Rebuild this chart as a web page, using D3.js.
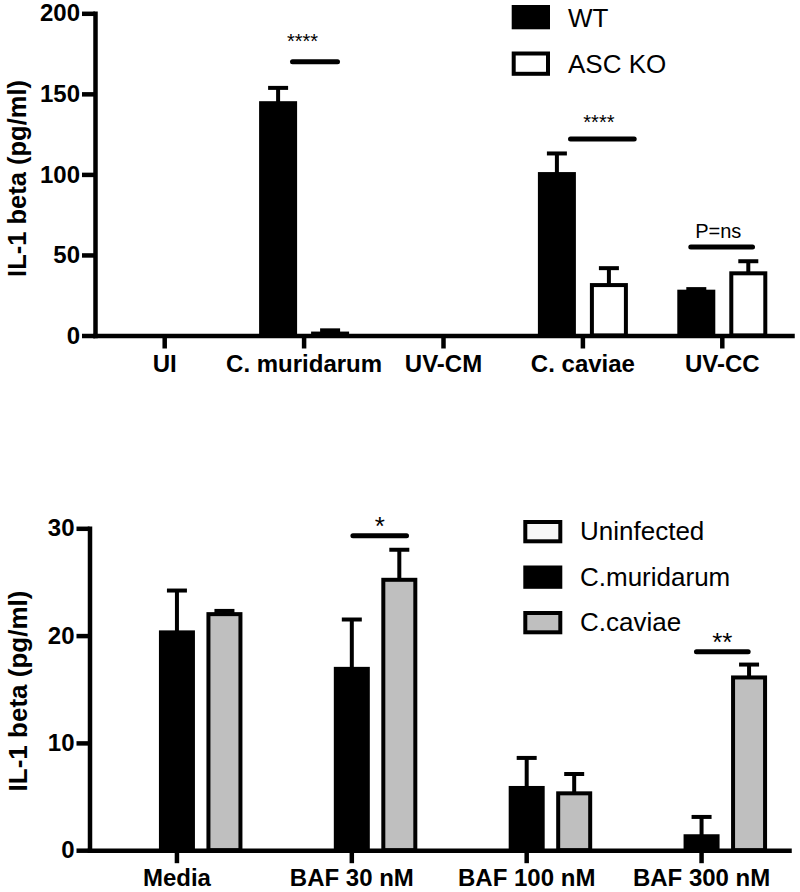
<!DOCTYPE html>
<html>
<head>
<meta charset="utf-8">
<script src="https://cdn.jsdelivr.net/npm/d3@7"></script>
<style>
  body { margin: 0; background: #fff; }
  svg { display: block; font-family: "Liberation Sans", Arial, Helvetica, sans-serif; }
</style>
</head>
<body>
<svg id="chart" width="800" height="892"></svg>
<script>
// ---------- DATA: top panel ----------
const topCategories = ["UI", "C. muridarum", "UV-CM", "C. caviae", "UV-CC"];
const topSeries = ["WT", "ASC KO"];
const topWT = [0, 144.2, 0, 100.2, 27.2];
const topWTerr = [0, 9.5, 0, 12.8, 1.6];
const topKO = [0, 1.2, 0, 31.3, 38.6];
const topKOerr = [0, 2.0, 0, 10.5, 7.5];
const topTicks = [0, 50, 100, 150, 200];
const topSig = [
  { cat: "C. muridarum", label: "****", level: 170 },
  { cat: "C. caviae", label: "****", level: 122 },
  { cat: "UV-CC", label: "P=ns", level: 55 }
];

// ---------- DATA: bottom panel ----------
const botCategories = ["Media", "BAF 30 nM", "BAF 100 nM", "BAF 300 nM"];
const botSeries = ["Uninfected", "C.muridarum", "C.caviae"];
const botUninfected = [0, 0, 0, 0];
const botUninfectedErr = [0, 0, 0, 0];
const botMur = [20.3, 16.9, 5.8, 1.3];
const botMurErr = [3.9, 4.6, 2.8, 1.8];
const botCav = [22.0, 25.2, 5.3, 16.1];
const botCavErr = [0.3, 2.8, 1.8, 1.2];
const botTicks = [0, 10, 20, 30];
const botSig = [
  { cat: "BAF 30 nM", label: "*", level: 29.3 },
  { cat: "BAF 300 nM", label: "**", level: 18.5 }
];

// ---------- LAYOUT / STYLE ----------
const FONT = '"Liberation Sans", Arial, Helvetica, sans-serif';
const svg = d3.select("#chart");

const topFills = { "WT": "#000", "ASC KO": "#fff" };
const botFills = { "Uninfected": "#f7f7f7", "C.muridarum": "#000", "C.caviae": "#bfbfbf" };

const topSigLayout = [
  { x1: -11.6, x2: 33.4, tx: -1.6, ty: -14, size: 20 },
  { x1: -12.4, x2: 51.3, tx: 16, ty: -9.5, size: 20 },
  { x1: -31.5, x2: 30.2, tx: -4, ty: -8.6, size: 20 }
];
const botSigLayout = [
  { x1: 1.1, x2: 54.7, tx: 28, ty: -1, size: 26 },
  { x1: -5.1, x2: 46.6, tx: 20.7, ty: -1, size: 26 }
];

function drawPanel(cfg) {
  const g = svg.append("g");
  const x = d3.scaleBand().domain(cfg.categories).range(cfg.xRange);
  const inner = d3.scaleBand().domain(cfg.series).range(cfg.innerRange);
  const y = d3.scaleLinear().domain(cfg.yDomain).range(cfg.yRange);

  const rows = [];
  cfg.series.forEach((s, si) => {
    cfg.categories.forEach((c, ci) => {
      rows.push({ s, c, v: cfg.values[si][ci], e: cfg.errors[si][ci] });
    });
  });

  const bw = cfg.barWidth;
  // bars
  g.selectAll("rect.bar").data(rows).join("rect")
    .attr("class", "bar")
    .attr("x", d => x(d.c) + x.bandwidth() / 2 + inner(d.s) + inner.bandwidth() / 2 - bw / 2)
    .attr("width", bw)
    .attr("y", d => y(d.v))
    .attr("height", d => y(0) - y(d.v))
    .attr("fill", d => cfg.fills[d.s])
    .attr("stroke", "#000")
    .attr("stroke-width", 4);

  // error bars
  const eb = rows.filter(d => d.e > 0);
  const cx = d => x(d.c) + x.bandwidth() / 2 + inner(d.s) + inner.bandwidth() / 2;
  g.selectAll("line.err").data(eb).join("line")
    .attr("x1", cx).attr("x2", cx)
    .attr("y1", d => y(d.v)).attr("y2", d => y(d.v + d.e))
    .attr("stroke", "#000").attr("stroke-width", 4);
  g.selectAll("line.cap").data(eb).join("line")
    .attr("x1", d => cx(d) - 10).attr("x2", d => cx(d) + 10)
    .attr("y1", d => y(d.v + d.e)).attr("y2", d => y(d.v + d.e))
    .attr("stroke", "#000").attr("stroke-width", 4);

  // significance annotations
  cfg.sig.forEach((s, i) => {
    const L = cfg.sigLayout[i];
    const tc = x(s.cat) + x.bandwidth() / 2;
    g.append("line")
      .attr("x1", tc + L.x1).attr("x2", tc + L.x2)
      .attr("y1", y(s.level)).attr("y2", y(s.level))
      .attr("stroke", "#000").attr("stroke-width", 5).attr("stroke-linecap", "round");
    g.append("text")
      .attr("x", tc + L.tx).attr("y", y(s.level) + L.ty)
      .attr("text-anchor", "middle")
      .attr("font-size", L.size)
      .attr("font-family", FONT)
      .text(s.label);
  });

  // y axis
  const ya = g.append("g").attr("transform", `translate(${cfg.xRange[0]},0)`)
    .call(d3.axisLeft(y).tickValues(cfg.ticks).tickFormat(d3.format("d"))
      .tickSize(13).tickSizeOuter(0).tickPadding(2));
  // x axis
  const xa = g.append("g").attr("transform", `translate(0,${y(0)})`)
    .call(d3.axisBottom(x).tickSize(13).tickSizeOuter(0).tickPadding(cfg.xPad));
  [ya, xa].forEach(a => {
    a.select(".domain").attr("stroke", "#000").attr("stroke-width", 4.5).attr("stroke-linecap", "square");
    a.selectAll(".tick line").attr("stroke", "#000").attr("stroke-width", 4.5);
    a.selectAll(".tick text").attr("fill", "#000")
      .attr("font-size", 24).attr("font-weight", "bold").attr("font-family", FONT);
  });

  // y title
  g.append("text")
    .attr("transform", `translate(${cfg.titleX},${cfg.titleY}) rotate(-90)`)
    .attr("text-anchor", "middle")
    .attr("font-size", cfg.titleSize).attr("font-weight", "bold").attr("font-family", FONT)
    .text("IL-1 beta (pg/ml)");

  // legend
  const lg = g.append("g");
  cfg.series.forEach((s, i) => {
    const yy = cfg.legend.y0 + i * cfg.legend.dy;
    lg.append("rect")
      .attr("x", cfg.legend.x + 2).attr("y", yy + 2)
      .attr("width", cfg.legend.w - 4).attr("height", cfg.legend.h - 4)
      .attr("fill", cfg.fills[s]).attr("stroke", "#000").attr("stroke-width", 4);
    lg.append("text")
      .attr("x", cfg.legend.tx).attr("y", yy + cfg.legend.base)
      .attr("font-size", 26).attr("font-family", FONT)
      .text(s);
  });
}

drawPanel({
  categories: topCategories, series: topSeries,
  values: [topWT, topKO], errors: [topWTerr, topKOerr],
  fills: topFills,
  xRange: [95, 792], innerRange: [-52, 52], barWidth: 34,
  yDomain: [0, 200], yRange: [335.5, 13.3], ticks: topTicks, xPad: 6,
  sig: topSig, sigLayout: topSigLayout,
  titleX: 26, titleY: 178.5, titleSize: 25.5,
  legend: { x: 511.7, y0: 5, dy: 46.5, w: 38.3, h: 24.3, tx: 568, base: 21.5 }
});

drawPanel({
  categories: botCategories, series: botSeries,
  values: [botUninfected, botMur, botCav], errors: [botUninfectedErr, botMurErr, botCavErr],
  fills: botFills,
  xRange: [89.5, 789], innerRange: [-71.25, 71.25], barWidth: 32,
  yDomain: [0, 30], yRange: [850.2, 528.3], ticks: botTicks, xPad: 6,
  sig: botSig, sigLayout: botSigLayout,
  titleX: 27, titleY: 691, titleSize: 26,
  legend: { x: 523.3, y0: 520, dy: 45.5, w: 39, h: 23.3, tx: 580, base: 20 }
});
</script>
</body>
</html>
